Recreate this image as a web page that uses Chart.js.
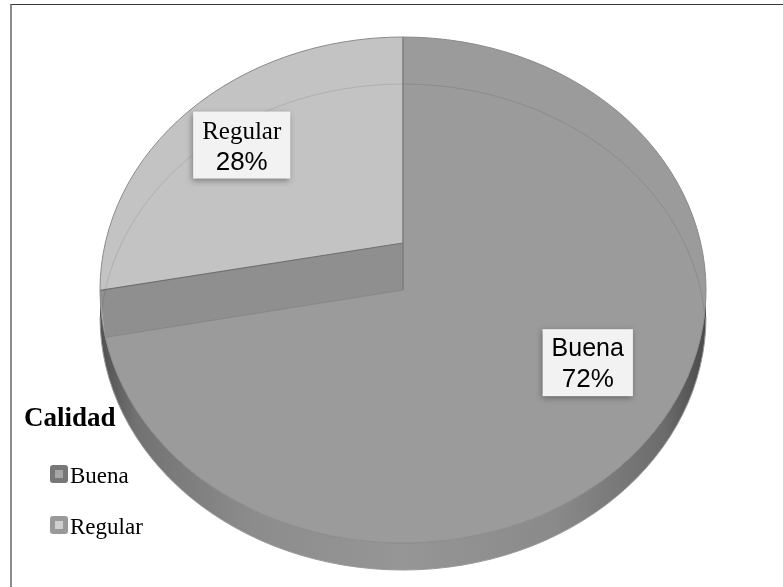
<!DOCTYPE html>
<html>
<head>
<meta charset="utf-8">
<script src="https://cdn.jsdelivr.net/npm/chart.js@4.4.1/dist/chart.umd.min.js"></script>
<style>
  html, body { margin: 0; padding: 0; background: #fff; overflow: hidden; }
  #frame { position: absolute; left: 10px; top: 4px; width: 773px; height: 583px;
           border-top: 1px solid #3a3a3a; border-left: 2px solid #8c8c8c; box-sizing: border-box; }
  #wrap { position: absolute; left: 0; top: 0; width: 783px; height: 587px; }
</style>
</head>
<body>
<div id="frame"></div>
<div id="wrap"><canvas id="pie" width="783" height="587"></canvas></div>
<script>
const legendTitle = "Calidad";
const categories = ["Buena", "Regular"];
const shares = [72, 28];

const faceColors = ["#9b9b9b", "#c3c3c3"];
const markerColors = [["#777777", "#a6a6a6"], ["#999999", "#cfcfcf"]];
const nameFonts = ["25px 'Liberation Sans', Arial, sans-serif", "25px 'Liberation Serif', 'Times New Roman', serif"];

// ellipse the round pie is squashed into, plus the rim depth
const CX = 403, CY = 290, RX = 303, RY = 253, DEPTH = 27, WALL = 47;

function onRim(angle, f) {
  return [CX + Math.cos(angle) * RX * f, CY + Math.sin(angle) * RY * f];
}

function ellipsePath(ctx, cy) {
  ctx.beginPath();
  ctx.ellipse(CX, cy, RX, RY, 0, 0, Math.PI * 2);
}

const pie3d = {
  id: "pie3d",
  beforeDatasetsDraw(chart) {
    const ctx = chart.ctx;
    const arc = chart.getDatasetMeta(0).data[0];

    // rim below the front half
    ctx.save();
    const g = ctx.createLinearGradient(CX - RX, 0, CX + RX, 0);
    g.addColorStop(0, "#505050");
    g.addColorStop(0.06, "#727272");
    g.addColorStop(0.25, "#8c8c8c");
    g.addColorStop(0.5, "#969696");
    g.addColorStop(0.75, "#8a8a8a");
    g.addColorStop(0.93, "#6c6c6c");
    g.addColorStop(1, "#4a4a4a");
    ctx.beginPath();
    ctx.ellipse(CX, CY, RX, RY, 0, 0, Math.PI);
    ctx.lineTo(CX - RX, CY + DEPTH);
    ctx.ellipse(CX, CY + DEPTH, RX, RY, 0, Math.PI, 0, true);
    ctx.closePath();
    ctx.fillStyle = g;
    ctx.fill();
    ctx.beginPath();
    ctx.ellipse(CX, CY + DEPTH, RX, RY, 0, 0, Math.PI);
    ctx.strokeStyle = "#9a9a9a";
    ctx.lineWidth = 1;
    ctx.stroke();
    ctx.restore();

    // squash the round slices into the top face
    const r = arc.outerRadius;
    ctx.save();
    ctx.translate(CX, CY);
    ctx.scale(RX / r, RY / r);
    ctx.translate(-arc.x, -arc.y);
  },
  afterDatasetsDraw(chart, args, opts) {
    const ctx = chart.ctx;
    ctx.restore();
    const arcs = chart.getDatasetMeta(0).data;

    // cut wall standing on the Buena/Regular edge
    const a = arcs[1].startAngle;
    const [ex, ey] = onRim(a, 1);
    ctx.save();
    ellipsePath(ctx, CY);
    ctx.clip();
    ctx.beginPath();
    ctx.moveTo(CX, CY);
    ctx.lineTo(ex, ey);
    ctx.lineTo(ex - 6, ey - WALL);
    ctx.lineTo(CX, CY - WALL);
    ctx.closePath();
    ctx.fillStyle = "#8f8f8f";
    ctx.fill();
    ctx.beginPath();
    ctx.moveTo(CX, CY - WALL);
    ctx.lineTo(ex - 6, ey - WALL);
    ctx.strokeStyle = "#707070";
    ctx.lineWidth = 1.2;
    ctx.stroke();
    ctx.beginPath();
    ctx.moveTo(CX, CY);
    ctx.lineTo(ex, ey);
    ctx.strokeStyle = "#858585";
    ctx.lineWidth = 1;
    ctx.stroke();

    // faint lower outline showing through the face
    ellipsePath(ctx, CY + WALL);
    ctx.strokeStyle = "rgba(0,0,0,0.10)";
    ctx.lineWidth = 1;
    ctx.stroke();
    ctx.restore();

    // seam at twelve o'clock
    ctx.save();
    ctx.beginPath();
    ctx.moveTo(CX, CY - RY);
    ctx.lineTo(CX, CY);
    ctx.strokeStyle = "#7c7c7c";
    ctx.lineWidth = 1.5;
    ctx.stroke();
    ellipsePath(ctx, CY);
    ctx.strokeStyle = "#8a8a8a";
    ctx.lineWidth = 1;
    ctx.stroke();
    ctx.restore();

    // boxed data labels
    arcs.forEach((el, i) => {
      const p = opts.placement[i];
      const mid = (el.startAngle + el.endAngle) / 2 + p.turn;
      const [lx, ly] = onRim(mid, p.reach);
      const pct = chart.data.datasets[0].data[i] + "%";
      const pctFont = "26px 'Liberation Sans', Arial, sans-serif";
      ctx.save();
      ctx.font = nameFonts[i];
      const w1 = ctx.measureText(chart.data.labels[i]).width;
      ctx.font = pctFont;
      const w2 = ctx.measureText(pct).width;
      const bw = Math.max(w1, w2) + 18, bh = 67;
      const bx = lx - bw / 2, by = ly - bh / 2;
      ctx.shadowColor = "rgba(0,0,0,0.35)";
      ctx.shadowBlur = 6;
      ctx.shadowOffsetX = -1;
      ctx.shadowOffsetY = 2;
      ctx.fillStyle = "#f2f2f2";
      ctx.fillRect(bx, by, bw, bh);
      ctx.shadowColor = "transparent";
      ctx.fillStyle = "#000";
      ctx.textAlign = "center";
      ctx.textBaseline = "alphabetic";
      ctx.font = nameFonts[i];
      ctx.fillText(chart.data.labels[i], lx, by + 27);
      ctx.font = pctFont;
      ctx.fillText(pct, lx, by + 58);
      ctx.restore();
    });
  },
  afterDraw(chart) {
    const ctx = chart.ctx;
    ctx.save();
    ctx.fillStyle = "#000";
    ctx.textBaseline = "alphabetic";
    ctx.font = "bold 27px 'Liberation Serif', 'Times New Roman', serif";
    ctx.fillText(legendTitle, 24, 426);
    chart.data.labels.forEach((name, i) => {
      const top = 465 + i * 51;
      ctx.fillStyle = markerColors[i][0];
      ctx.beginPath();
      ctx.roundRect(50, top, 18, 18, 3);
      ctx.fill();
      ctx.fillStyle = markerColors[i][1];
      ctx.fillRect(55, top + 5, 8, 8);
      ctx.fillStyle = "#000";
      ctx.font = "23px 'Liberation Serif', 'Times New Roman', serif";
      ctx.fillText(name, 70, top + 18);
    });
    ctx.restore();
  }
};

new Chart(document.getElementById("pie"), {
  type: "pie",
  data: {
    labels: categories,
    datasets: [{
      data: shares,
      backgroundColor: faceColors,
      borderWidth: 0
    }]
  },
  options: {
    responsive: false,
    animation: false,
    events: [],
    layout: { padding: { left: 153, right: 130, top: 40, bottom: 47 } },
    plugins: {
      legend: { display: false },
      tooltip: { enabled: false },
      pie3d: {
        placement: [
          { turn: -0.251, reach: 0.674 },
          { turn: 0.131, reach: 0.782 }
        ]
      }
    }
  },
  plugins: [pie3d]
});
</script>
</body>
</html>
